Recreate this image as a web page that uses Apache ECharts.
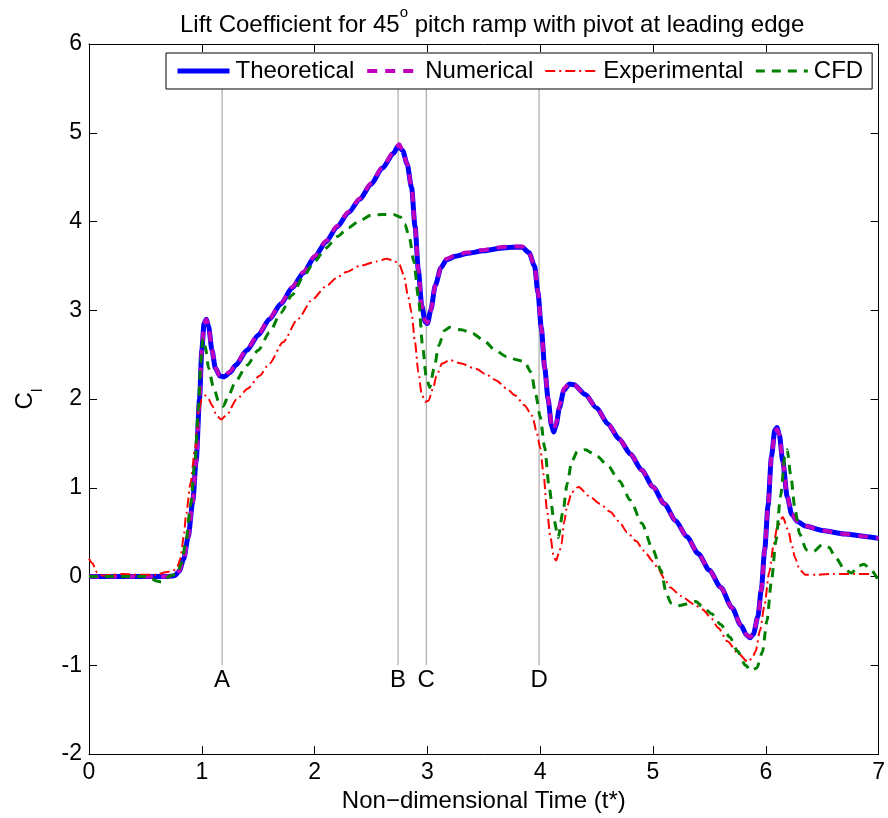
<!DOCTYPE html>
<html>
<head>
<meta charset="utf-8">
<script src="https://cdn.jsdelivr.net/npm/echarts@6/dist/echarts.min.js"></script>
<style>html,body{margin:0;padding:0;background:#fff;}#c{width:888px;height:818px;}</style>
</head>
<body>
<div id="c"></div>
<script>
// ---- data ----
const tTheo = [0,0.5,0.7,0.76,0.8,0.84,0.88,0.92,0.95,0.98,1.0,1.02,1.04,1.06,1.09,1.12,1.16,1.2,1.25,1.3,1.4,1.5,1.6,1.7,1.8,1.9,2.0,2.1,2.2,2.3,2.4,2.5,2.6,2.7,2.74,2.78,2.82,2.86,2.89,2.92,2.95,2.98,3.0,3.03,3.07,3.12,3.17,3.25,3.35,3.5,3.65,3.75,3.84,3.9,3.95,3.98,4.01,4.04,4.07,4.1,4.12,4.14,4.17,4.21,4.26,4.3,4.4,4.5,4.6,4.7,4.8,4.9,5.0,5.1,5.2,5.3,5.4,5.5,5.6,5.7,5.78,5.83,5.86,5.89,5.93,5.96,5.99,6.02,6.05,6.08,6.1,6.12,6.15,6.19,6.23,6.28,6.35,6.5,6.7,6.9,7.0];
const yTheo = [0,0,0,0.01,0.06,0.2,0.45,0.85,1.3,2.0,2.55,2.85,2.9,2.82,2.55,2.35,2.26,2.25,2.3,2.38,2.55,2.72,2.9,3.07,3.25,3.42,3.6,3.77,3.94,4.1,4.25,4.42,4.6,4.77,4.85,4.8,4.65,4.38,3.95,3.45,3.05,2.87,2.85,3.0,3.28,3.48,3.57,3.61,3.64,3.67,3.7,3.71,3.71,3.65,3.5,3.2,2.8,2.35,2.0,1.7,1.63,1.7,1.9,2.1,2.17,2.16,2.05,1.9,1.72,1.55,1.38,1.2,1.01,0.82,0.63,0.45,0.26,0.07,-0.12,-0.35,-0.55,-0.66,-0.69,-0.65,-0.45,-0.15,0.3,0.8,1.35,1.65,1.68,1.6,1.3,0.9,0.7,0.62,0.57,0.52,0.48,0.45,0.43];

const tNum = [0,0.5,0.7,0.76,0.8,0.84,0.88,0.92,0.95,0.98,1.0,1.02,1.04,1.06,1.09,1.12,1.16,1.2,1.25,1.3,1.4,1.5,1.6,1.7,1.8,1.9,2.0,2.1,2.2,2.3,2.4,2.5,2.6,2.7,2.75,2.78,2.82,2.86,2.89,2.92,2.95,2.98,3.0,3.03,3.07,3.12,3.17,3.25,3.35,3.5,3.65,3.75,3.84,3.9,3.95,3.98,4.01,4.04,4.07,4.1,4.12,4.14,4.17,4.21,4.26,4.3,4.4,4.5,4.6,4.7,4.8,4.9,5.0,5.1,5.2,5.3,5.4,5.5,5.6,5.7,5.78,5.83,5.86,5.89,5.93,5.96,5.99,6.02,6.05,6.08,6.1,6.12,6.15,6.19,6.23,6.28,6.35,6.5,6.7,6.9,7.0];
const yNum = [0,0,0,0.01,0.06,0.2,0.45,0.85,1.3,2.0,2.55,2.85,2.9,2.82,2.55,2.35,2.26,2.26,2.31,2.39,2.56,2.73,2.91,3.08,3.26,3.43,3.61,3.78,3.95,4.11,4.26,4.43,4.61,4.78,4.87,4.8,4.65,4.38,3.95,3.45,3.05,2.88,2.86,3.0,3.28,3.48,3.58,3.62,3.65,3.68,3.71,3.72,3.72,3.65,3.5,3.2,2.8,2.35,2.0,1.72,1.66,1.72,1.92,2.12,2.18,2.16,2.05,1.9,1.72,1.55,1.38,1.2,1.01,0.82,0.63,0.45,0.26,0.07,-0.12,-0.35,-0.55,-0.66,-0.68,-0.65,-0.45,-0.15,0.3,0.8,1.35,1.63,1.66,1.6,1.3,0.9,0.7,0.62,0.57,0.52,0.48,0.45,0.43];

const tExp = [0,0.03,0.07,0.12,0.2,0.3,0.4,0.5,0.6,0.68,0.74,0.78,0.81,0.84,0.86,0.9,0.94,0.97,1.0,1.03,1.06,1.09,1.13,1.17,1.22,1.31,1.41,1.51,1.6,1.72,1.85,1.98,2.1,2.2,2.28,2.4,2.55,2.64,2.7,2.75,2.79,2.83,2.86,2.89,2.92,2.95,2.98,3.01,3.05,3.08,3.13,3.2,3.3,3.43,3.52,3.61,3.7,3.78,3.86,3.93,3.97,4.0,4.03,4.06,4.09,4.12,4.14,4.17,4.19,4.21,4.24,4.28,4.34,4.44,4.53,4.62,4.7,4.77,4.85,4.92,5.0,5.04,5.1,5.15,5.25,5.36,5.44,5.51,5.58,5.66,5.75,5.84,5.88,5.91,5.95,5.99,6.03,6.07,6.1,6.15,6.2,6.23,6.26,6.3,6.35,6.45,6.6,6.8,7.0];
const yExp = [0.2,0.15,0.05,0.01,0.02,0.03,0.02,0.02,0.02,0.05,0.06,0.1,0.2,0.45,0.69,1.05,1.44,1.85,2.0,2.04,2.0,1.93,1.82,1.77,1.82,2.0,2.12,2.26,2.4,2.64,2.9,3.12,3.27,3.37,3.43,3.5,3.55,3.58,3.56,3.52,3.4,3.15,2.97,2.64,2.3,2.05,1.97,1.98,2.12,2.26,2.4,2.44,2.4,2.34,2.28,2.21,2.12,2.04,1.93,1.81,1.62,1.45,1.15,0.75,0.45,0.22,0.18,0.28,0.37,0.6,0.8,0.95,1.01,0.9,0.82,0.73,0.62,0.5,0.4,0.29,0.17,0.1,-0.02,-0.12,-0.22,-0.31,-0.37,-0.46,-0.58,-0.73,-0.86,-0.96,-0.92,-0.84,-0.6,-0.31,0.05,0.36,0.55,0.67,0.52,0.35,0.21,0.08,0.02,0.02,0.03,0.03,0.03];

const tCfd = [0,0.5,0.55,0.6,0.64,0.68,0.72,0.78,0.82,0.86,0.9,0.94,0.97,0.99,1.01,1.03,1.06,1.1,1.15,1.19,1.24,1.3,1.4,1.5,1.6,1.7,1.8,1.9,2.0,2.1,2.2,2.3,2.4,2.5,2.6,2.7,2.76,2.8,2.84,2.88,2.92,2.96,2.99,3.02,3.06,3.1,3.15,3.2,3.3,3.4,3.5,3.6,3.7,3.8,3.86,3.92,3.96,4.0,4.04,4.08,4.12,4.16,4.2,4.24,4.28,4.33,4.4,4.5,4.6,4.7,4.8,4.9,5.0,5.07,5.12,5.16,5.22,5.3,5.38,5.44,5.52,5.6,5.68,5.75,5.82,5.87,5.92,5.97,6.01,6.05,6.09,6.13,6.17,6.19,6.22,6.26,6.3,6.36,6.42,6.5,6.56,6.62,6.7,6.76,6.82,6.87,6.93,7.0];
const yCfd = [0,0,-0.02,-0.05,-0.06,-0.02,0.01,0.03,0.15,0.4,0.8,1.3,1.9,2.4,2.68,2.6,2.35,2.15,1.97,1.92,2.05,2.2,2.38,2.55,2.75,2.97,3.17,3.38,3.55,3.7,3.83,3.93,4.01,4.07,4.08,4.08,4.05,3.97,3.82,3.55,3.15,2.56,2.25,2.13,2.35,2.6,2.77,2.81,2.78,2.74,2.66,2.55,2.48,2.44,2.42,2.3,2.05,1.8,1.45,1.0,0.65,0.44,0.72,1.05,1.3,1.41,1.43,1.36,1.25,1.08,0.86,0.6,0.3,0.07,-0.2,-0.3,-0.33,-0.31,-0.28,-0.34,-0.42,-0.54,-0.68,-0.84,-1.0,-1.06,-1.03,-0.85,-0.5,-0.05,0.4,0.9,1.35,1.43,1.15,0.75,0.48,0.3,0.28,0.36,0.33,0.21,0.08,0.04,0.12,0.14,0.08,-0.05];

const markerTimes = [1.18, 2.74, 2.99, 3.99];
const markerNames = ['A', 'B', 'C', 'D'];
const markerRange = [-1, 5.5];

const xTicks = [0, 1, 2, 3, 4, 5, 6, 7];
const yTicks = [-2, -1, 0, 1, 2, 3, 4, 5, 6];
const seriesNames = ['Theoretical', 'Numerical', 'Experimental', 'CFD'];

// ---- build ----
const zip = (t, y) => t.map((v, i) => [v, y[i]]);
const FONT = 'Liberation Sans, Arial, sans-serif';
const FS = 24;
const chart = echarts.init(document.getElementById('c'), null, {renderer: 'canvas'});

const styles = {
  Theoretical: {color: '#0000ff', width: 5, type: 'solid'},
  Numerical: {color: '#bf00bf', width: 4, type: [10, 8]},
  Experimental: {color: '#ff0000', width: 2, type: [10, 4, 2, 4]},
  CFD: {color: '#008000', width: 3, type: [9, 7]}
};

const markerSeries = markerTimes.map((t, i) => ({
  type: 'line', name: 'marker' + markerNames[i], silent: true, symbol: 'none', z: 1,
  data: [[t, markerRange[0]], [t, markerRange[1]]],
  lineStyle: {color: '#9a9a9a', width: 1}
}));

const baseLine = {type: 'line', symbol: 'none', showSymbol: false, smooth: 0.25, smoothMonotone: 'x', animation: false};
const dataSets = [zip(tTheo, yTheo), zip(tNum, yNum), zip(tExp, yExp), zip(tCfd, yCfd)];

const option = {
  animation: false,
  backgroundColor: '#fff',
  title: {
    text: '{a|Lift Coefficient for 45}{s|o}{a| pitch ramp with pivot at leading edge}',
    left: 175, top: 0,
    textStyle: {
      fontFamily: FONT, fontWeight: 'normal', color: '#000',
      rich: {
        a: {fontFamily: FONT, fontSize: 24, color: '#000', lineHeight: 32, verticalAlign: 'bottom'},
        s: {fontFamily: FONT, fontSize: 15, color: '#000', lineHeight: 32, verticalAlign: 'top'}
      }
    }
  },
  legend: {
    data: seriesNames.map(n => ({
      name: n, itemStyle: {opacity: 0},
      lineStyle: {color: styles[n].color, width: styles[n].width, type: styles[n].type}
    })),
    left: 166, top: 53,
    padding: [6, 9, 6, 9],
    itemGap: 11,
    itemWidth: 52, itemHeight: 14,
    backgroundColor: '#fff',
    borderColor: '#000', borderWidth: 1, borderRadius: 0,
    textStyle: {fontFamily: FONT, fontSize: FS, color: '#000', padding: [0, 0, 0, 1]},
    z: 20
  },
  grid: {left: 89, right: 8, top: 44, bottom: 62},
  xAxis: [{
    type: 'value', min: xTicks[0], max: xTicks[xTicks.length - 1], interval: 1,
    name: 'Non\u2212dimensional Time (t*)', nameLocation: 'middle', nameGap: 33,
    nameTextStyle: {fontFamily: FONT, fontSize: FS, color: '#000'},
    axisLine: {show: true, onZero: false, lineStyle: {color: '#000', width: 1}},
    axisTick: {show: true, inside: true, length: 8, lineStyle: {color: '#000'}},
    axisLabel: {fontFamily: FONT, fontSize: 23, color: '#000', margin: 7},
    splitLine: {show: false}
  }, {
    type: 'value', position: 'top', min: xTicks[0], max: xTicks[xTicks.length - 1], interval: 1,
    axisLine: {show: true, onZero: false, lineStyle: {color: '#000', width: 1}},
    axisTick: {show: true, inside: true, length: 8, lineStyle: {color: '#000'}},
    axisLabel: {show: false}, splitLine: {show: false}
  }],
  yAxis: [{
    type: 'value', min: yTicks[0], max: yTicks[yTicks.length - 1], interval: 1,
    name: '{c|C}{s|l}', nameLocation: 'middle', nameGap: 44, nameRotate: 90,
    nameTextStyle: {
      fontFamily: FONT, color: '#000',
      rich: {
        c: {fontFamily: FONT, fontSize: FS, color: '#000', lineHeight: 32, verticalAlign: 'top'},
        s: {fontFamily: FONT, fontSize: 15, color: '#000', lineHeight: 32, verticalAlign: 'bottom'}
      }
    },
    axisLine: {show: true, onZero: false, lineStyle: {color: '#000', width: 1}},
    axisTick: {show: true, inside: true, length: 8, lineStyle: {color: '#000'}},
    axisLabel: {fontFamily: FONT, fontSize: 23, color: '#000', margin: 7},
    splitLine: {show: false}
  }, {
    type: 'value', position: 'right', min: yTicks[0], max: yTicks[yTicks.length - 1], interval: 1,
    axisLine: {show: true, onZero: false, lineStyle: {color: '#000', width: 1}},
    axisTick: {show: true, inside: true, length: 8, lineStyle: {color: '#000'}},
    axisLabel: {show: false}, splitLine: {show: false}
  }],
  series: [
    ...markerSeries,
    {
      type: 'scatter', name: 'markerLabels', silent: true, symbolSize: 1, z: 2,
      itemStyle: {opacity: 0},
      data: markerTimes.map(t => [t, markerRange[0]]),
      label: {
        show: true, position: 'bottom', distance: 3,
        formatter: p => markerNames[p.dataIndex],
        fontFamily: FONT, fontSize: FS, color: '#000', opacity: 1
      },
      labelLayout: {hideOverlap: false}
    },
    ...seriesNames.map((n, i) => Object.assign({}, baseLine, {
      name: n, z: 3 + i, data: dataSets[i],
      lineStyle: styles[n], itemStyle: {color: styles[n].color}
    }))
  ]
};
chart.setOption(option);
</script>
</body>
</html>
